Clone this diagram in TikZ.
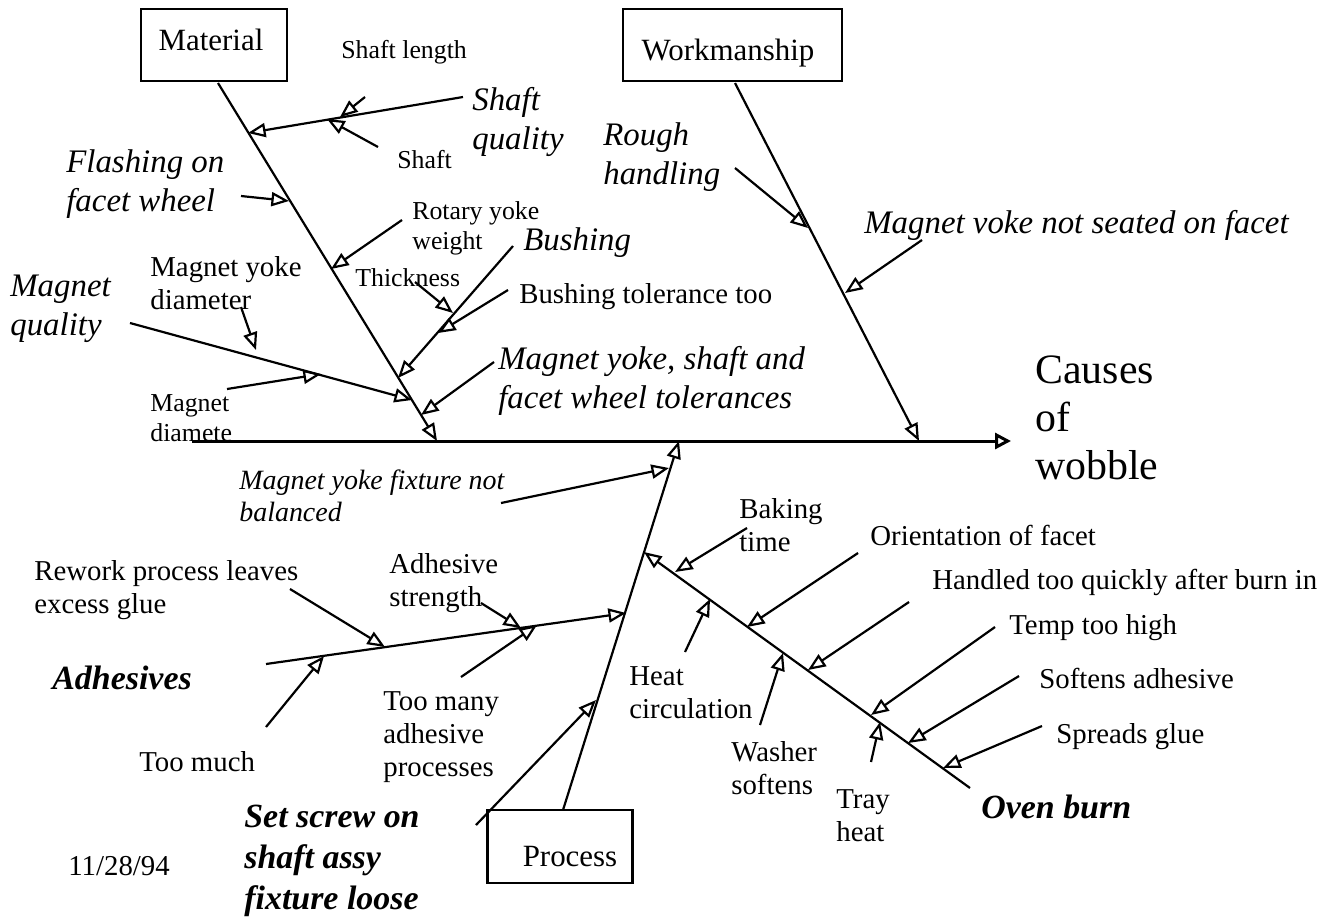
\documentclass[tikz,border=0pt]{standalone}
\usepackage{fontspec}
\setmainfont{Liberation Serif}
\usetikzlibrary{arrows.meta}
\begin{document}
\begin{tikzpicture}[x=0.02cm,y=-0.02cm,
  ar/.style={line width=1.25pt,-{Triangle[open,length=10pt,width=8pt]}},
  spinear/.style={line width=1.7pt,-{Triangle[open,length=9pt,width=9pt]}},
  catbox/.style={draw,line width=1.2pt,inner sep=0pt},
  lab/.style={inner sep=0pt,anchor=west,align=left},
  sm/.style={lab,font=\fontsize{14.7}{17}\selectfont},
  md/.style={lab,font=\fontsize{16.4}{18.7}\selectfont},
  itm/.style={lab,font=\itshape\fontsize{15.9}{18.1}\selectfont},
  itl/.style={lab,font=\itshape\fontsize{18.7}{22}\selectfont},
  bi/.style={lab,font=\bfseries\itshape\fontsize{19.3}{23.2}\selectfont},
  boxlab/.style={inner sep=0pt,font=\fontsize{17.6}{20}\selectfont},
  big/.style={lab,font=\fontsize{23.8}{27.5}\selectfont}
]
\useasboundingbox (0,0) rectangle (1334,917);

% category boxes
\node[catbox,minimum width=2.92cm,minimum height=1.44cm] (matbox) at (214,45) {};
\node[boxlab] (matlab) at (211,40) {Material};
\node[catbox,minimum width=4.38cm,minimum height=1.44cm] (workbox) at (732.5,45) {};
\node[boxlab] (worklab) at (728,53) {Workmanship};
\node[catbox,minimum width=2.9cm,minimum height=1.46cm] (procbox) at (560,846.5) {};
\node[boxlab] (proclab) at (570,857) {Process};

% coordinates
\coordinate (sp0) at (192,441); \coordinate (sp1) at (1011,441);
\coordinate (m0) at (218,83);  \coordinate (m1) at (437,441);
\coordinate (w0) at (735,83);  \coordinate (w1) at (919,441);
\coordinate (p0) at (563,810); \coordinate (p1) at (679,441);
\coordinate (a0) at (266,664); \coordinate (a1) at (626,613);
\coordinate (o0) at (970,788); \coordinate (o1) at (644,552);

\coordinate (sq0) at (463,97); \coordinate (sq1) at (248,133);
\coordinate (sl0) at (365,97); \coordinate (sl1) at (340,117);
\coordinate (sh0) at (378,147); \coordinate (sh1) at (327,119);
\coordinate (fl0) at (241,196); \coordinate (fl1) at (289,201);
\coordinate (ry0) at (402,220); \coordinate (ry1) at (331,269);
\coordinate (mq0) at (130,323); \coordinate (mq1) at (412,400);
\coordinate (myd0) at (241,307); \coordinate (myd1) at (256,350);
\coordinate (md0) at (227,389); \coordinate (md1) at (321,374);
\coordinate (bu0) at (513,246); \coordinate (bu1) at (398,378);
\coordinate (th0) at (415,282); \coordinate (th1) at (453,313);
\coordinate (bt0) at (508,290); \coordinate (bt1) at (438,333);
\coordinate (tol0) at (494,362); \coordinate (tol1) at (421,415);

\coordinate (rh0) at (735,168); \coordinate (rh1) at (808,228);
\coordinate (ms0) at (922,240); \coordinate (ms1) at (845,293);

\coordinate (fx0) at (501,503); \coordinate (fx1) at (669,468);
\coordinate (ss0) at (476,825); \coordinate (ss1) at (596,700);

\coordinate (rw0) at (290,589); \coordinate (rw1) at (385,647);
\coordinate (as0) at (481,603); \coordinate (as1) at (521,628);
\coordinate (tm0) at (461,677); \coordinate (tm1) at (537,625);
\coordinate (tu0) at (266,727); \coordinate (tu1) at (324,656);

\coordinate (bk0) at (747,528); \coordinate (bk1) at (675,572);
\coordinate (hc0) at (685,652); \coordinate (hc1) at (710,599);
\coordinate (or0) at (858,553); \coordinate (or1) at (747,627);
\coordinate (ws0) at (760,725); \coordinate (ws1) at (783,653);
\coordinate (hd0) at (909,602); \coordinate (hd1) at (808,670);
\coordinate (tp0) at (995,627); \coordinate (tp1) at (871,715);
\coordinate (tr0) at (871,762); \coordinate (tr1) at (880,722);
\coordinate (sa0) at (1019,676); \coordinate (sa1) at (908,743);
\coordinate (sg0) at (1042,726); \coordinate (sg1) at (943,768);

% spine and main bones
\draw[spinear] (sp0) -- (sp1);
\draw[ar] (m0) -- (m1);
\draw[ar] (w0) -- (w1);
\draw[ar] (p0) -- (p1);
\draw[ar] (a0) -- (a1);
\draw[ar] (o0) -- (o1);

% material
\draw[ar] (sq0) -- (sq1);
\draw[ar] (sl0) -- (sl1);
\draw[ar] (sh0) -- (sh1);
\draw[ar] (fl0) -- (fl1);
\draw[ar] (ry0) -- (ry1);
\draw[ar] (mq0) -- (mq1);
\draw[ar] (myd0) -- (myd1);
\draw[ar] (md0) -- (md1);
\draw[ar] (bu0) -- (bu1);
\draw[ar] (th0) -- (th1);
\draw[ar] (bt0) -- (bt1);
\draw[ar] (tol0) -- (tol1);
% workmanship
\draw[ar] (rh0) -- (rh1);
\draw[ar] (ms0) -- (ms1);
% process
\draw[ar] (fx0) -- (fx1);
\draw[ar] (ss0) -- (ss1);
% adhesives
\draw[ar] (rw0) -- (rw1);
\draw[ar] (as0) -- (as1);
\draw[ar] (tm0) -- (tm1);
\draw[ar] (tu0) -- (tu1);
% oven burn
\draw[ar] (bk0) -- (bk1);
\draw[ar] (hc0) -- (hc1);
\draw[ar] (or0) -- (or1);
\draw[ar] (ws0) -- (ws1);
\draw[ar] (hd0) -- (hd1);
\draw[ar] (tp0) -- (tp1);
\draw[ar] (tr0) -- (tr1);
\draw[ar] (sa0) -- (sa1);
\draw[ar] (sg0) -- (sg1);

% labels
\node[sm] (tShaftLength) at (341,52) {Shaft length};
\node[itl] (tShaftQ) at (472,122) {Shaft\\quality};
\node[sm] (tShaft) at (397,160) {Shaft};
\node[itl] (tRough) at (603,157) {Rough\\handling};
\node[itl] (tFlash) at (66,184) {Flashing on\\facet wheel};
\node[sm] (tRotary) at (412,228) {Rotary yoke\\weight};
\node[itl] (tBushing) at (523,243) {Bushing};
\node[itl] (tSeated) at (864,225) {Magnet voke not seated on facet};
\node[md] (tMYD) at (150,283) {Magnet yoke\\diameter};
\node[itl] (tMQ) at (10,309) {Magnet\\quality};
\node[sm] (tThick) at (355,278) {Thickness};
\node[md] (tBTol) at (519,297) {Bushing tolerance too};
\node[itl] (tTol) at (498,381) {Magnet yoke, shaft and\\facet wheel tolerances};
\node[sm] (tMD) at (150,418) {Magnet\\diamete};
\node[big] (tEffect) at (1035,418) {Causes\\of\\wobble};

\node[itm] (tFixture) at (239,496) {Magnet yoke fixture not\\balanced};
\node[md] (tRework) at (34,590) {Rework process leaves\\excess glue};
\node[md] (tStrength) at (389,583) {Adhesive\\strength};
\node[bi] (tAdh) at (52,678) {Adhesives};
\node[md] (tTooMuch) at (139,762) {Too much};
\node[md] (tTooMany) at (383,737) {Too many\\adhesive\\processes};
\node[bi] (tSetScrew) at (244,861) {Set screw on\\shaft assy\\fixture loose};
\node[md] (tDate) at (68,866) {11/28/94};

\node[md] (tBaking) at (739,525) {Baking\\time};
\node[md] (tOrient) at (870,535) {Orientation of facet};
\node[md] (tHandled) at (932,582) {Handled too quickly after burn in};
\node[md] (tTemp) at (1009,628) {Temp too high};
\node[md] (tHeat) at (629,693) {Heat\\circulation};
\node[md] (tSoftens) at (1039,678) {Softens adhesive};
\node[md] (tSpreads) at (1056,737) {Spreads glue};
\node[md] (tWasher) at (731,768) {Washer\\softens};
\node[md] (tTray) at (836,816) {Tray\\heat};
\node[bi] (tOven) at (981,807) {Oven burn};
\end{tikzpicture}
\end{document}
